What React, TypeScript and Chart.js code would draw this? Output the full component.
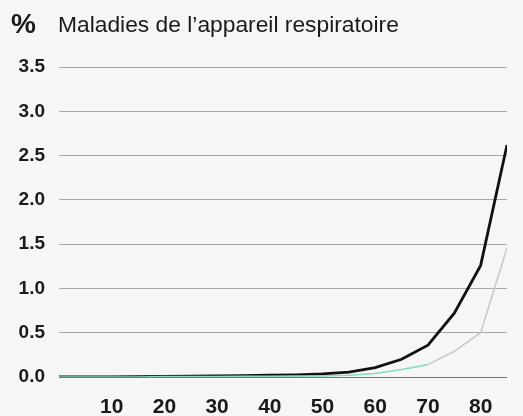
import React, { useEffect, useRef } from "react";
import { Chart, registerables } from "chart.js";

Chart.register(...registerables);

const ages = [0, 5, 10, 15, 20, 25, 30, 35, 40, 45, 50, 55, 60, 65, 70, 75, 80, 85];
const blackValues = [0, 0, 0, 0.003, 0.008, 0.01, 0.012, 0.015, 0.02, 0.025, 0.035, 0.055, 0.105, 0.2, 0.36, 0.72, 1.26, 2.62];
const greyValues = [0, 0, 0, 0, 0.005, 0.005, 0.006, 0.007, 0.008, 0.01, 0.012, 0.02, 0.04, 0.085, 0.14, 0.29, 0.5, 1.46];
const xTickLabels = [10, 20, 30, 40, 50, 60, 70, 80];
const yTickValues = [0, 0.5, 1, 1.5, 2, 2.5, 3, 3.5];
const titleUnit = "%";
const titleText = "Maladies de l\u2019appareil respiratoire";

const GREEN = "#86dcc6";
const GREY = "#c9c9c9";
const BLACK = "#111111";

export default function App() {
  const ref = useRef<HTMLCanvasElement | null>(null);

  useEffect(() => {
    if (!ref.current) return;
    const titlePlugin = {
      id: "titleText",
      afterDraw(chart: any) {
        const ctx = chart.ctx;
        ctx.save();
        ctx.fillStyle = "#1a1a1a";
        ctx.textBaseline = "alphabetic";
        ctx.font = "bold 28px 'Liberation Sans', Arial, sans-serif";
        ctx.fillText(titleUnit, 11, 33);
        ctx.font = "22.8px 'Liberation Sans', Arial, sans-serif";
        ctx.fillText(titleText, 58, 32);
        ctx.restore();
      },
    };
    const chart = new Chart(ref.current, {
      type: "line",
      data: {
        datasets: [
          {
            data: ages.map((a, i) => ({ x: a, y: greyValues[i] })),
            borderColor: GREY,
            borderWidth: 1.6,
            pointRadius: 0,
            tension: 0,
            segment: {
              borderColor: (c: any) => (c.p1.parsed.x <= 70 ? GREEN : GREY),
            },
          },
          {
            data: ages.map((a, i) => ({ x: a, y: blackValues[i] })),
            borderColor: BLACK,
            borderWidth: 2.8,
            pointRadius: 0,
            tension: 0,
          },
        ],
      },
      options: {
        animation: false,
        responsive: false,
        maintainAspectRatio: false,
        layout: { padding: { top: 67, right: 16, left: 0, bottom: 0 } },
        plugins: { legend: { display: false }, tooltip: { enabled: false }, title: { display: false } },
        scales: {
          x: {
            type: "linear",
            min: 0,
            max: 85,
            grid: { display: false, drawTicks: false },
            border: { display: false },
            afterBuildTicks: (s: any) => {
              s.ticks = xTickLabels.map((v) => ({ value: v }));
            },
            afterFit: (s: any) => {
              s.height = 39;
            },
            ticks: {
              padding: 18,
              color: "#1a1a1a",
              maxRotation: 0,
              autoSkip: false,
              font: { family: "'Liberation Sans', Arial, sans-serif", size: 21, weight: "bold" },
            },
          },
          y: {
            min: 0,
            max: 3.5,
            grid: {
              drawTicks: false,
              color: (c: any) => (c.tick && c.tick.value === 0 ? "#777" : "#a8a8a8"),
              lineWidth: 1,
            },
            border: { display: false },
            afterBuildTicks: (s: any) => {
              s.ticks = yTickValues.map((v) => ({ value: v }));
            },
            afterFit: (s: any) => {
              s.width = 59;
            },
            ticks: {
              padding: 14,
              color: "#1a1a1a",
              callback: (v: any) => Number(v).toFixed(1),
              font: { family: "'Liberation Sans', Arial, sans-serif", size: 19, weight: "bold" },
            },
          },
        },
      },
      plugins: [titlePlugin],
    });
    return () => chart.destroy();
  }, []);

  return (
    <div style={{ position: "fixed", left: 0, top: 0, width: 523, height: 416, background: "#f6f6f6" }}>
      <canvas ref={ref} width={523} height={416} style={{ display: "block" }} />
    </div>
  );
}
